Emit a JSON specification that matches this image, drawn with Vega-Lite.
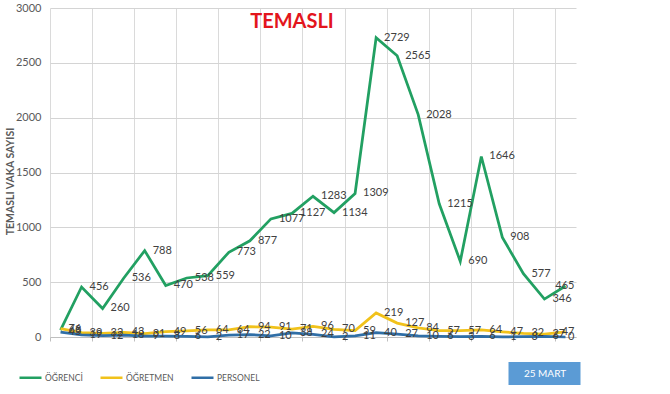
{
  "$schema": "https://vega.github.io/schema/vega-lite/v6.json",
  "width": 526,
  "height": 329,
  "autosize": {"type": "none"},
  "padding": {"left": 50, "top": 8, "right": 94, "bottom": 57},
  "background": "white",
  "title": {"text": "TEMASLI", "color": "#e3151c", "fontSize": 20, "fontWeight": "bold", "font": "Lato", "anchor": "middle", "frame": "group", "baseline": "top", "offset": -30, "dx": -21},
  "config": {"view": {"fill": "#efefef", "stroke": null}, "font": "Lato"},
  "datasets": {
    "vaka": [
      {"gun": 1, "seri": "ÖĞRENCİ", "deger": 63}, {"gun": 2, "seri": "ÖĞRENCİ", "deger": 456}, {"gun": 3, "seri": "ÖĞRENCİ", "deger": 260}, {"gun": 4, "seri": "ÖĞRENCİ", "deger": 536}, {"gun": 5, "seri": "ÖĞRENCİ", "deger": 788},
      {"gun": 6, "seri": "ÖĞRENCİ", "deger": 470}, {"gun": 7, "seri": "ÖĞRENCİ", "deger": 538}, {"gun": 8, "seri": "ÖĞRENCİ", "deger": 559}, {"gun": 9, "seri": "ÖĞRENCİ", "deger": 773}, {"gun": 10, "seri": "ÖĞRENCİ", "deger": 877},
      {"gun": 11, "seri": "ÖĞRENCİ", "deger": 1077}, {"gun": 12, "seri": "ÖĞRENCİ", "deger": 1127}, {"gun": 13, "seri": "ÖĞRENCİ", "deger": 1283}, {"gun": 14, "seri": "ÖĞRENCİ", "deger": 1134}, {"gun": 15, "seri": "ÖĞRENCİ", "deger": 1309},
      {"gun": 16, "seri": "ÖĞRENCİ", "deger": 2729}, {"gun": 17, "seri": "ÖĞRENCİ", "deger": 2565}, {"gun": 18, "seri": "ÖĞRENCİ", "deger": 2028}, {"gun": 19, "seri": "ÖĞRENCİ", "deger": 1215}, {"gun": 20, "seri": "ÖĞRENCİ", "deger": 690},
      {"gun": 21, "seri": "ÖĞRENCİ", "deger": 1646}, {"gun": 22, "seri": "ÖĞRENCİ", "deger": 908}, {"gun": 23, "seri": "ÖĞRENCİ", "deger": 577}, {"gun": 24, "seri": "ÖĞRENCİ", "deger": 346}, {"gun": 25, "seri": "ÖĞRENCİ", "deger": 465},
      {"gun": 1, "seri": "ÖĞRETMEN", "deger": 76}, {"gun": 2, "seri": "ÖĞRETMEN", "deger": 39}, {"gun": 3, "seri": "ÖĞRETMEN", "deger": 32}, {"gun": 4, "seri": "ÖĞRETMEN", "deger": 43}, {"gun": 5, "seri": "ÖĞRETMEN", "deger": 31},
      {"gun": 6, "seri": "ÖĞRETMEN", "deger": 49}, {"gun": 7, "seri": "ÖĞRETMEN", "deger": 56}, {"gun": 8, "seri": "ÖĞRETMEN", "deger": 64}, {"gun": 9, "seri": "ÖĞRETMEN", "deger": 64}, {"gun": 10, "seri": "ÖĞRETMEN", "deger": 94},
      {"gun": 11, "seri": "ÖĞRETMEN", "deger": 91}, {"gun": 12, "seri": "ÖĞRETMEN", "deger": 71}, {"gun": 13, "seri": "ÖĞRETMEN", "deger": 96}, {"gun": 14, "seri": "ÖĞRETMEN", "deger": 70}, {"gun": 15, "seri": "ÖĞRETMEN", "deger": 59},
      {"gun": 16, "seri": "ÖĞRETMEN", "deger": 219}, {"gun": 17, "seri": "ÖĞRETMEN", "deger": 127}, {"gun": 18, "seri": "ÖĞRETMEN", "deger": 84}, {"gun": 19, "seri": "ÖĞRETMEN", "deger": 57}, {"gun": 20, "seri": "ÖĞRETMEN", "deger": 57},
      {"gun": 21, "seri": "ÖĞRETMEN", "deger": 64}, {"gun": 22, "seri": "ÖĞRETMEN", "deger": 47}, {"gun": 23, "seri": "ÖĞRETMEN", "deger": 32}, {"gun": 24, "seri": "ÖĞRETMEN", "deger": 27}, {"gun": 25, "seri": "ÖĞRETMEN", "deger": 47},
      {"gun": 1, "seri": "PERSONEL", "deger": 45}, {"gun": 2, "seri": "PERSONEL", "deger": 19}, {"gun": 3, "seri": "PERSONEL", "deger": 12}, {"gun": 4, "seri": "PERSONEL", "deger": 18}, {"gun": 5, "seri": "PERSONEL", "deger": 9},
      {"gun": 6, "seri": "PERSONEL", "deger": 8}, {"gun": 7, "seri": "PERSONEL", "deger": 6}, {"gun": 8, "seri": "PERSONEL", "deger": 2}, {"gun": 9, "seri": "PERSONEL", "deger": 17}, {"gun": 10, "seri": "PERSONEL", "deger": 22},
      {"gun": 11, "seri": "PERSONEL", "deger": 10}, {"gun": 12, "seri": "PERSONEL", "deger": 38}, {"gun": 13, "seri": "PERSONEL", "deger": 24}, {"gun": 14, "seri": "PERSONEL", "deger": 2}, {"gun": 15, "seri": "PERSONEL", "deger": 11},
      {"gun": 16, "seri": "PERSONEL", "deger": 40}, {"gun": 17, "seri": "PERSONEL", "deger": 27}, {"gun": 18, "seri": "PERSONEL", "deger": 10}, {"gun": 19, "seri": "PERSONEL", "deger": 6}, {"gun": 20, "seri": "PERSONEL", "deger": 3},
      {"gun": 21, "seri": "PERSONEL", "deger": 6}, {"gun": 22, "seri": "PERSONEL", "deger": 1}, {"gun": 23, "seri": "PERSONEL", "deger": 3}, {"gun": 24, "seri": "PERSONEL", "deger": 6}, {"gun": 25, "seri": "PERSONEL", "deger": 0}
    ],
    "not": [{"tarih": "25 MART"}]
  },
  "layer": [
    {
      "data": {"name": "vaka"},
      "mark": {"type": "line", "strokeWidth": 2.75, "strokeJoin": "miter"},
      "encoding": {
        "x": {"field": "gun", "type": "quantitative",
          "scale": {"domain": [0.5, 25.5], "nice": false, "zero": false},
          "axis": {"title": null,
            "values": [0.5,1,1.5,2,2.5,3,3.5,4,4.5,5,5.5,6,6.5,7,7.5,8,8.5,9,9.5,10,10.5,11,11.5,12,12.5,13,13.5,14,14.5,15,15.5,16,16.5,17,17.5,18,18.5,19,19.5,20,20.5,21,21.5,22,22.5,23,23.5,24,24.5,25,25.5],
            "labelExpr": "datum.value % 1 === 0 ? datum.label : ''",
            "labelOverlap": false, "labelFlush": false,
            "labelFontSize": 11, "labelColor": "#595959", "labelPadding": 8,
            "grid": true, "gridColor": "#dadada",
            "gridOpacity": {"condition": {"test": "datum.value % 1 !== 0", "value": 1}, "value": 0},
            "ticks": true, "tickColor": "#bfbfbf", "tickSize": 4,
            "tickOpacity": {"condition": {"test": "datum.value % 1 !== 0", "value": 1}, "value": 0},
            "domainColor": "#bfbfbf"}},
        "y": {"field": "deger", "type": "quantitative",
          "scale": {"domain": [0, 3000], "nice": false},
          "axis": {"title": "TEMASLI VAKA SAYISI", "values": [0,500,1000,1500,2000,2500,3000], "format": "d",
            "titleFontSize": 10.5, "titleFontWeight": "bold", "titleColor": "#595959",
            "titleX": -40, "titleY": 173, "titleAngle": 270, "titleAlign": "center", "titleBaseline": "middle",
            "labelFontSize": 11, "labelColor": "#595959", "labelPadding": 9,
            "ticks": false, "domain": false, "grid": true, "gridColor": "#d4d4d4"}},
        "color": {"field": "seri", "type": "nominal",
          "scale": {"domain": ["ÖĞRENCİ", "ÖĞRETMEN", "PERSONEL"], "range": ["#22a062", "#f1c21b", "#2f6ea6"]},
          "legend": {"title": null, "orient": "none", "legendX": -32, "legendY": 357, "direction": "horizontal",
            "symbolType": "stroke", "symbolStrokeWidth": 2.5, "symbolSize": 484,
            "labelFontSize": 8.5, "labelColor": "#595959", "labelOffset": 2, "columnPadding": 12, "padding": 0}}
      }
    },
    {
      "data": {"name": "vaka"},
      "mark": {"type": "text", "fontSize": 11, "color": "#404040", "baseline": "middle",
        "align": {"expr": "datum.gun == 25 ? 'right' : 'left'"},
        "dx": {"expr": "datum.gun == 25 ? 9 : 8"}},
      "encoding": {
        "x": {"field": "gun", "type": "quantitative"},
        "y": {"field": "deger", "type": "quantitative"},
        "text": {"field": "deger", "type": "quantitative"}
      }
    },
    {
      "data": {"name": "not"},
      "mark": {"type": "point", "opacity": 0, "filled": true, "color": "#5b9bd5", "stroke": "#4f8bc4"},
      "encoding": {
        "shape": {"field": "tarih", "type": "nominal",
          "scale": {"range": ["M-1,-0.32L1,-0.32L1,0.32L-1,0.32Z"]},
          "legend": {"title": null, "orient": "none", "legendX": 458, "legendY": 329, "padding": 0,
            "symbolSize": 5184, "symbolStrokeWidth": 1, "symbolFillColor": "#5b9bd5", "symbolStrokeColor": "#4f8bc4",
            "labelAlign": "center", "labelOffset": -36, "labelColor": "white", "labelFontSize": 10,
            "encode": {"symbols": {"update": {"opacity": {"value": 1}, "fill": {"value": "#5b9bd5"}, "stroke": {"value": "#4f8bc4"}, "fillOpacity": {"value": 1}, "strokeOpacity": {"value": 1}}}}}}
      }
    }
  ]
}
